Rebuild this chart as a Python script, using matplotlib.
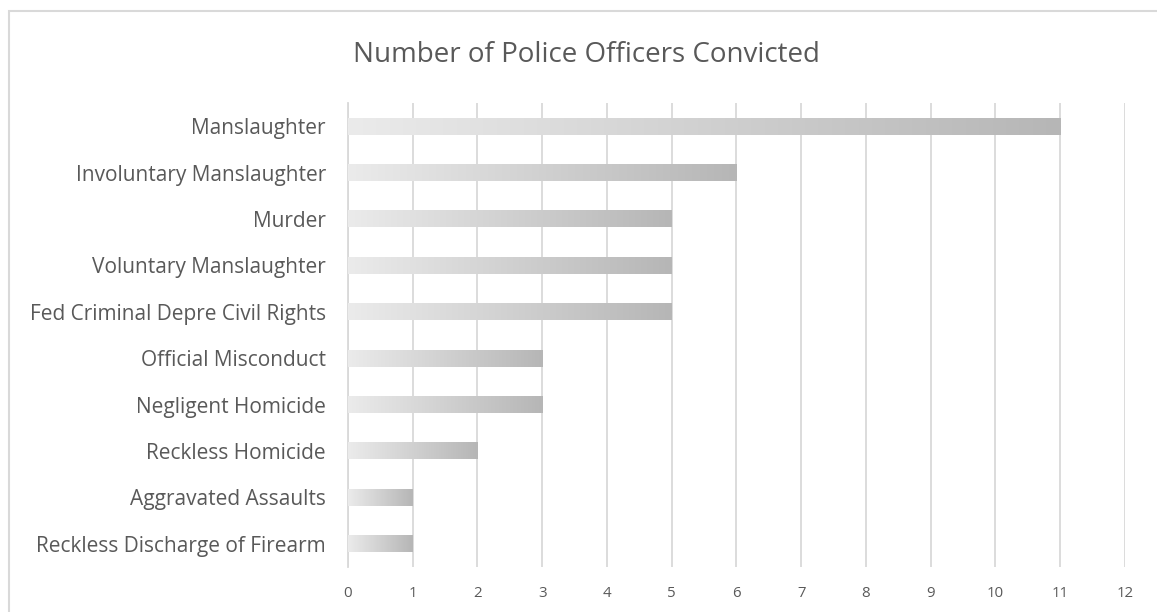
import numpy as np
import matplotlib
matplotlib.use("Agg")
from matplotlib import pyplot as plt
from matplotlib.colors import LinearSegmentedColormap
from matplotlib.patches import Rectangle

# chart data, top to bottom as in the picture
charges = ['Manslaughter',
           'Involuntary Manslaughter',
           'Murder',
           'Voluntary Manslaughter',
           'Fed Criminal Depre Civil Rights',
           'Official Misconduct',
           'Negligent Homicide',
           'Reckless Homicide',
           'Aggravated Assaults',
           'Reckless Discharge of Firearm']
convicted = [11, 6, 5, 5, 5, 3, 3, 2, 1, 1]
x_ticks = list(range(0, 13))

TEXT_COL = '#595959'
GRID_COL = '#d9d9d9'
plt.rcParams['font.family'] = ['Open Sans', 'DejaVu Sans']

fig = plt.figure(figsize=(11.57, 6.12), dpi=100)
ax = fig.add_axes([348 / 1157, 1 - 567 / 612, (1125 - 348) / 1157, (567 - 103) / 612])

# outer chart border (right/bottom fall outside the image)
fig.patches.append(Rectangle((9 / 1157, -0.1), 1.2, 1 - 11 / 612 + 0.1,
                             transform=fig.transFigure, fill=False,
                             edgecolor='#d9d9d9', linewidth=1.5))

ypos = np.arange(len(charges))
bar_h = 0.36
cmap = LinearSegmentedColormap.from_list('grey_grad', ['#ebebeb', '#b6b6b6'])
grad = np.linspace(0, 1, 256).reshape(1, -1)

bars = ax.barh(ypos, convicted, height=bar_h, color='none', edgecolor='none', zorder=3)
for b in bars:
    x0, y0 = b.get_x(), b.get_y()
    w, h = b.get_width(), b.get_height()
    ax.imshow(grad, cmap=cmap, extent=[x0, x0 + w, y0, y0 + h],
              aspect='auto', zorder=3, interpolation='bilinear')

ax.set_xlim(0, 12)
ax.set_ylim(len(charges) - 0.5, -0.5)
ax.set_xticks(x_ticks)
ax.set_yticks(ypos)
ax.set_yticklabels(charges, fontsize=15.0, color=TEXT_COL)
ax.tick_params(axis='x', length=0, labelsize=10.8, labelcolor=TEXT_COL, pad=14)
ax.tick_params(axis='y', length=0, pad=16)
ax.xaxis.grid(True, color=GRID_COL, linewidth=1.3, zorder=0)
ax.set_axisbelow(True)
for s in ['top', 'right', 'bottom']:
    ax.spines[s].set_visible(False)
ax.spines['left'].set_color(GRID_COL)
ax.spines['left'].set_linewidth(1.3)

fig.text(586 / 1157, 1 - 55 / 612, 'Number of Police Officers Convicted',
         ha='center', va='center', fontsize=20, color=TEXT_COL)

fig.savefig('out.png', dpi=100)
